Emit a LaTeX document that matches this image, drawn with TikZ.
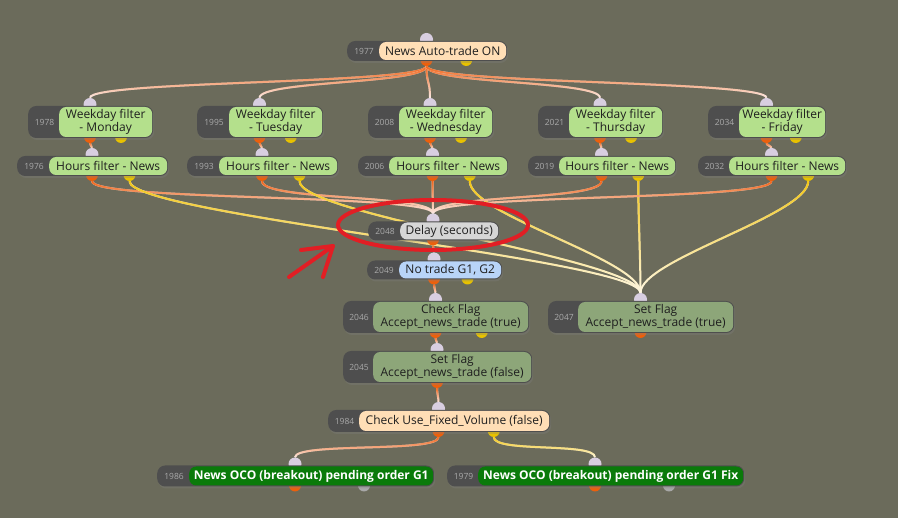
\documentclass[tikz,border=0pt]{standalone}
\usepackage{fontspec}
\setmainfont{Open Sans}
\usetikzlibrary{calc,fadings,shadows}
\definecolor{canvasbg}{RGB}{107,107,91}
\definecolor{pillgray}{RGB}{78,78,78}
\definecolor{idgray}{RGB}{170,170,170}
\definecolor{peach}{RGB}{255,222,182}
\definecolor{filtergreen}{RGB}{180,224,140}
\definecolor{delaygray}{RGB}{214,214,214}
\definecolor{infoblue}{RGB}{184,212,248}
\definecolor{flaggreen}{RGB}{141,166,121}
\definecolor{ordergreen}{RGB}{10,122,10}
\definecolor{portlilac}{RGB}{216,206,224}
\definecolor{portorange}{RGB}{236,96,12}
\definecolor{portyellow}{RGB}{232,194,0}
\definecolor{portgray}{RGB}{168,168,168}
\definecolor{linkorange}{RGB}{240,100,24}
\definecolor{linkyellow}{RGB}{242,198,24}
\definecolor{palepink}{RGB}{252,238,234}
\definecolor{paleyellow}{RGB}{255,248,228}
\definecolor{markred}{RGB}{226,30,36}

\pgfdeclarelayer{bg}
\pgfdeclarelayer{edges}
\pgfdeclarelayer{ports}
\pgfsetlayers{bg,edges,ports,main}

\tikzfading[name=fadedown, top color=transparent!0, bottom color=transparent!100]

% name, id, pill left, label left, label right, centre y, height, style, text
\newcommand{\flowblock}[9]{%
  \begin{pgfonlayer}{ports}
    \node[inport] (#1-in) at ({(#3+#5)/2},{#6-#7/2-2.5}) {};
    \node[outport] (#1-out) at ({(#3+#5)/2},{#6+#7/2}) {};
  \end{pgfonlayer}
  \coordinate (#1-alt) at ({(#3+#5)/2+(#5-#3)/4},{#6+#7/2});
  \node[pill, minimum width={#5-#3+1}, minimum height={#7+2}, anchor=west] (#1-pill) at (#3,#6) {};
  \node[idtext] (#1-id) at ({(#3+#4)/2+1},#6) {#2};
  \node[#8, minimum width={#5-#4}, minimum height=#7, anchor=west] (#1) at (#4,#6) {#9};
}
\newcommand{\altport}[2]{%
  \begin{pgfonlayer}{ports}
    \node[#2] (#1-y) at (#1-alt) {};
  \end{pgfonlayer}
}
% [bend], kind (o/y), from, to
\newcommand{\flowlink}[4][26]{%
  \begin{pgfonlayer}{edges}
    \draw[#2base] (#3) .. controls +(0,#1) and +(0,-#1) .. (#4);
    \draw[#2top, path fading=fadedown] (#3) .. controls +(0,#1) and +(0,-#1) .. (#4);
  \end{pgfonlayer}
}

\begin{document}
\begin{tikzpicture}[
    x=1pt, y=-1pt,
    pill/.style={rectangle, rounded corners=8pt, fill=pillgray, inner sep=0pt,
      drop shadow={shadow xshift=1pt, shadow yshift=-2pt, opacity=0.3}},
    idtext/.style={font=\fontsize{8.5}{9}\selectfont, text=idgray, inner sep=0pt},
    lbl/.style={rectangle, rounded corners=7pt, inner sep=0pt, align=center,
      font=\fontsize{12}{13}\selectfont, text=black!88},
    trigger/.style={lbl, fill=peach},
    filterbox/.style={lbl, fill=filtergreen},
    delaybox/.style={lbl, fill=delaygray},
    infobox/.style={lbl, fill=infoblue},
    flagbox/.style={lbl, fill=flaggreen},
    orderbox/.style={lbl, fill=ordergreen, text=white, font=\fontsize{12}{13}\selectfont\bfseries},
    inport/.style={circle, fill=portlilac, minimum size=13pt, inner sep=0pt},
    outport/.style={circle, fill=portorange, minimum size=12pt, inner sep=0pt},
    yport/.style={outport, fill=portyellow},
    gport/.style={outport, fill=portgray},
    obase/.style={draw=palepink, line width=2pt},
    otop/.style={draw=linkorange, line width=2pt},
    ybase/.style={draw=paleyellow, line width=2pt},
    ytop/.style={draw=linkyellow, line width=2pt},
    redmark/.style={draw=markred, line width=4pt, line cap=round, line join=round}
]
\begin{pgfonlayer}{bg}
  \fill[canvasbg] (0,0) rectangle (898,518);
\end{pgfonlayer}
\useasboundingbox (0,0) rectangle (898,518);

\flowblock{auto}{1977}{347}{379}{506}{51}{18}{trigger}{News Auto-trade ON}
\altport{auto}{yport}

\flowblock{wdmon}{1978}{28}{59}{152}{122}{30}{filterbox}{Weekday filter\\- Monday}
\flowblock{wdtue}{1995}{197}{229}{322}{122}{30}{filterbox}{Weekday filter\\- Tuesday}
\flowblock{wdwed}{2008}{368}{399}{492}{122}{30}{filterbox}{Weekday filter\\- Wednesday}
\flowblock{wdthu}{2021}{538}{569}{662}{122}{30}{filterbox}{Weekday filter\\- Thursday}
\flowblock{wdfri}{2034}{708}{739}{825}{122}{30}{filterbox}{Weekday filter\\- Friday}
\foreach \d in {wdmon,wdtue,wdwed,wdthu,wdfri} {\altport{\d}{yport}}

\flowblock{hfmon}{1976}{17}{49}{167}{166}{18}{filterbox}{Hours filter - News}
\flowblock{hftue}{1993}{187}{219}{337}{166}{18}{filterbox}{Hours filter - News}
\flowblock{hfwed}{2006}{358}{389}{507}{166}{18}{filterbox}{Hours filter - News}
\flowblock{hfthu}{2019}{528}{559}{675}{166}{18}{filterbox}{Hours filter - News}
\flowblock{hffri}{2032}{698}{729}{845}{166}{18}{filterbox}{Hours filter - News}
\foreach \d in {hfmon,hftue,hfwed,hfthu,hffri} {\altport{\d}{yport}}

\flowblock{delay}{2048}{368}{400}{498}{231}{17}{delaybox}{Delay (seconds)}
\flowblock{notrade}{2049}{367}{399}{501}{270}{17}{infobox}{No trade G1, G2}
\altport{notrade}{yport}

\flowblock{chkflag}{2046}{343}{373}{528}{317}{30}{flagbox}{Check Flag\\Accept\_news\_trade (true)}
\altport{chkflag}{yport}
\flowblock{setflagok}{2047}{548}{578}{733}{317}{30}{flagbox}{Set Flag\\Accept\_news\_trade (true)}
\flowblock{setflagno}{2045}{343}{373}{531}{367}{30}{flagbox}{Set Flag\\Accept\_news\_trade (false)}

\flowblock{fixvol}{1984}{328}{359}{549}{421}{20}{trigger}{Check Use\_Fixed\_Volume (false)}
\altport{fixvol}{yport}

\flowblock{oco}{1986}{157}{189}{433}{476}{19}{orderbox}{News OCO (breakout) pending order G1}
\altport{oco}{gport}
\flowblock{ocofix}{1979}{447}{478}{743}{476}{19}{orderbox}{News OCO (breakout) pending order G1 Fix}
\altport{ocofix}{gport}

% links
\foreach \d in {wdmon,wdtue,wdwed,wdthu,wdfri} {\flowlink[24]{o}{auto-out}{\d-in}}
\flowlink[8]{o}{wdmon-out}{hfmon-in}
\flowlink[8]{o}{wdtue-out}{hftue-in}
\flowlink[8]{o}{wdwed-out}{hfwed-in}
\flowlink[8]{o}{wdthu-out}{hfthu-in}
\flowlink[8]{o}{wdfri-out}{hffri-in}
\foreach \h in {hfmon,hftue,hfwed,hfthu,hffri} {
  \flowlink[26]{o}{\h-out}{delay-in}
  \flowlink[40]{y}{\h-y}{setflagok-in}
}
\flowlink[8]{o}{delay-out}{notrade-in}
\flowlink[8]{o}{notrade-out}{chkflag-in}
\flowlink[8]{o}{chkflag-out}{setflagno-in}
\flowlink[10]{o}{setflagno-out}{fixvol-in}
\flowlink[22]{o}{fixvol-out}{oco-in}
\flowlink[22]{y}{fixvol-y}{ocofix-in}

% red marks
\draw[redmark] (433,225) ellipse [x radius=95, y radius=25];
\coordinate (mark-tail) at (289,277);
\coordinate (mark-tip) at (333,246);
\draw[redmark] (mark-tail) -- (mark-tip);
\draw[redmark] (301,250) -- (mark-tip) -- (323,277);
\end{tikzpicture}
\end{document}
